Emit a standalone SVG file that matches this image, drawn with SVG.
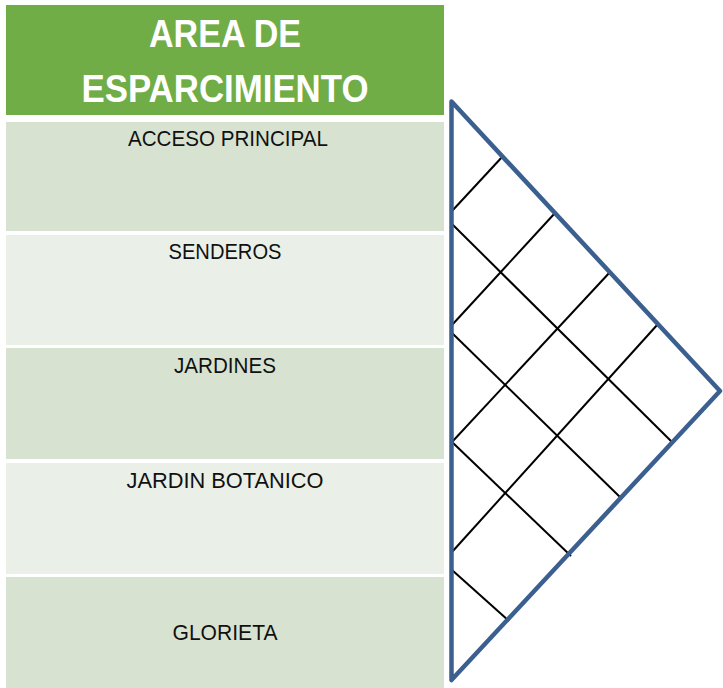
<svg xmlns="http://www.w3.org/2000/svg" width="723" height="688" viewBox="0 0 723 688">
  <style>
    .hdr { fill: #70AD47; }
    .dark { fill: #D7E3D0; }
    .light { fill: #EAF0E8; }
    .htxt { font-family: "Liberation Sans", Arial, sans-serif; font-weight: bold; font-size: 38px; fill: #FFFFFF; text-anchor: middle; }
    .rtxt { font-family: "Liberation Sans", Arial, sans-serif; font-size: 22px; fill: #111111; text-anchor: middle; }
    .trifill { fill: #FFFFFF; stroke: none; }
    .triedge { fill: none; stroke: #3B6090; stroke-width: 4.5; stroke-linejoin: round; }
    .grid { stroke: #000000; stroke-width: 2; fill: none; stroke-linecap: butt; }
  </style>
  <rect width="723" height="688" fill="#FFFFFF"/>

  <g id="header">
    <rect class="hdr" x="6" y="5" width="438" height="110"/>
    <text class="htxt" x="225" y="47" textLength="152" lengthAdjust="spacingAndGlyphs">AREA DE</text>
    <text class="htxt" x="225" y="102" textLength="287" lengthAdjust="spacingAndGlyphs">ESPARCIMIENTO</text>
  </g>

  <g id="row-acceso">
    <rect class="dark" x="6" y="122" width="438" height="109"/>
    <text class="rtxt" x="228" y="146" textLength="200" lengthAdjust="spacingAndGlyphs">ACCESO PRINCIPAL</text>
  </g>
  <g id="row-senderos">
    <rect class="light" x="6" y="235" width="438" height="110"/>
    <text class="rtxt" x="225" y="259" textLength="113" lengthAdjust="spacingAndGlyphs">SENDEROS</text>
  </g>
  <g id="row-jardines">
    <rect class="dark" x="6" y="348" width="438" height="111"/>
    <text class="rtxt" x="225" y="373" textLength="102" lengthAdjust="spacingAndGlyphs">JARDINES</text>
  </g>
  <g id="row-botanico">
    <rect class="light" x="6" y="463" width="438" height="111"/>
    <text class="rtxt" x="225" y="488" textLength="197" lengthAdjust="spacingAndGlyphs">JARDIN BOTANICO</text>
  </g>
  <g id="row-glorieta">
    <rect class="dark" x="6" y="577" width="438" height="111"/>
    <text class="rtxt" x="225" y="640" textLength="105" lengthAdjust="spacingAndGlyphs">GLORIETA</text>
  </g>

  <g id="triangle-fill">
    <polygon class="trifill" points="451.5,101.5 720,391 451.5,680"/>
  </g>

  <g id="connectors">
    <line class="grid" x1="452" y1="211" x2="503" y2="156"/>
    <line class="grid" x1="452" y1="325" x2="555" y2="213"/>
    <line class="grid" x1="452" y1="442" x2="611" y2="271"/>
    <line class="grid" x1="452" y1="552" x2="658" y2="324"/>
    <line class="grid" x1="452" y1="224" x2="673" y2="443"/>
    <line class="grid" x1="452" y1="333" x2="622" y2="499"/>
    <line class="grid" x1="452" y1="442" x2="571" y2="556"/>
    <line class="grid" x1="452" y1="570" x2="509" y2="621"/>
  </g>

  <g id="triangle">
    <polygon class="triedge" points="451.5,101.5 720,391 451.5,680"/>
  </g>
</svg>
